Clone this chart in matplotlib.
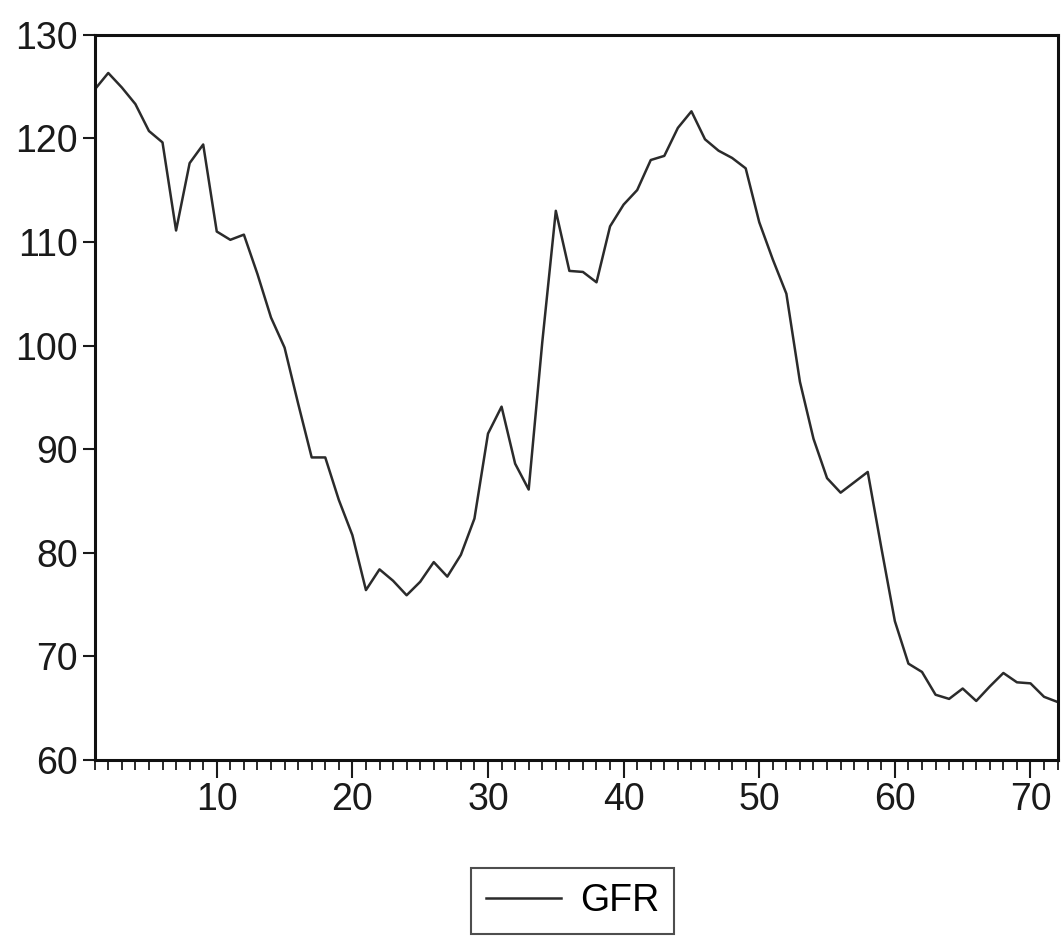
import numpy as np
import matplotlib.pyplot as plt
from matplotlib.ticker import MultipleLocator, FixedLocator

plt.rcParams['font.family'] = ['Liberation Sans', 'DejaVu Sans']

# observation index and GFR series
obs = list(range(1, 73))
gfr = [124.7, 126.3, 124.9, 123.3, 120.7, 119.6, 111.1, 117.6, 119.4, 111.0,
       110.2, 110.7, 106.9, 102.7, 99.8, 94.4, 89.2, 89.2, 85.1, 81.7,
       76.4, 78.4, 77.3, 75.9, 77.2, 79.1, 77.7, 79.8, 83.3, 91.5,
       94.1, 88.6, 86.1, 100.3, 113.0, 107.2, 107.1, 106.1, 111.5, 113.6,
       115.0, 117.9, 118.3, 121.0, 122.6, 119.9, 118.8, 118.1, 117.1, 111.9,
       108.3, 105.0, 96.5, 91.0, 87.2, 85.8, 86.8, 87.8, 80.5, 73.4,
       69.3, 68.5, 66.3, 65.9, 66.9, 65.7, 67.1, 68.4, 67.5, 67.4,
       66.1, 65.6]

x_major = [10, 20, 30, 40, 50, 60, 70]
y_ticks = [60, 70, 80, 90, 100, 110, 120, 130]

fig = plt.figure(figsize=(10.64, 9.36), dpi=100)
ax = fig.add_axes([0.089, 0.188, 0.905, 0.775])

line, = ax.plot(obs, gfr, color='#2b2b2b', linewidth=1.8, label='GFR')

ax.set_xlim(1, 72)
ax.set_ylim(60, 130)

ax.xaxis.set_major_locator(FixedLocator(x_major))
ax.xaxis.set_minor_locator(MultipleLocator(1))
ax.yaxis.set_major_locator(FixedLocator(y_ticks))

ax.tick_params(axis='x', which='major', direction='out', length=13, width=1.5,
               labelsize=27, pad=3, colors='#1a1a1a')
ax.tick_params(axis='x', which='minor', direction='out', length=7, width=1.3,
               colors='#1a1a1a')
ax.tick_params(axis='y', which='major', direction='out', length=9, width=1.5,
               labelsize=27, pad=3, colors='#1a1a1a', right=False)

for side in ['left', 'right', 'top', 'bottom']:
    ax.spines[side].set_linewidth(2.2)
    ax.spines[side].set_color('#111111')

leg = fig.legend(handles=[line], loc='center', bbox_to_anchor=(0.538, 0.037),
                 fontsize=27, frameon=True, fancybox=False, edgecolor='#222222',
                 handlelength=2.0, handletextpad=0.5, borderpad=0.4)
leg.get_frame().set_linewidth(1.5)

fig.savefig('out.png', dpi=100, facecolor='white')
